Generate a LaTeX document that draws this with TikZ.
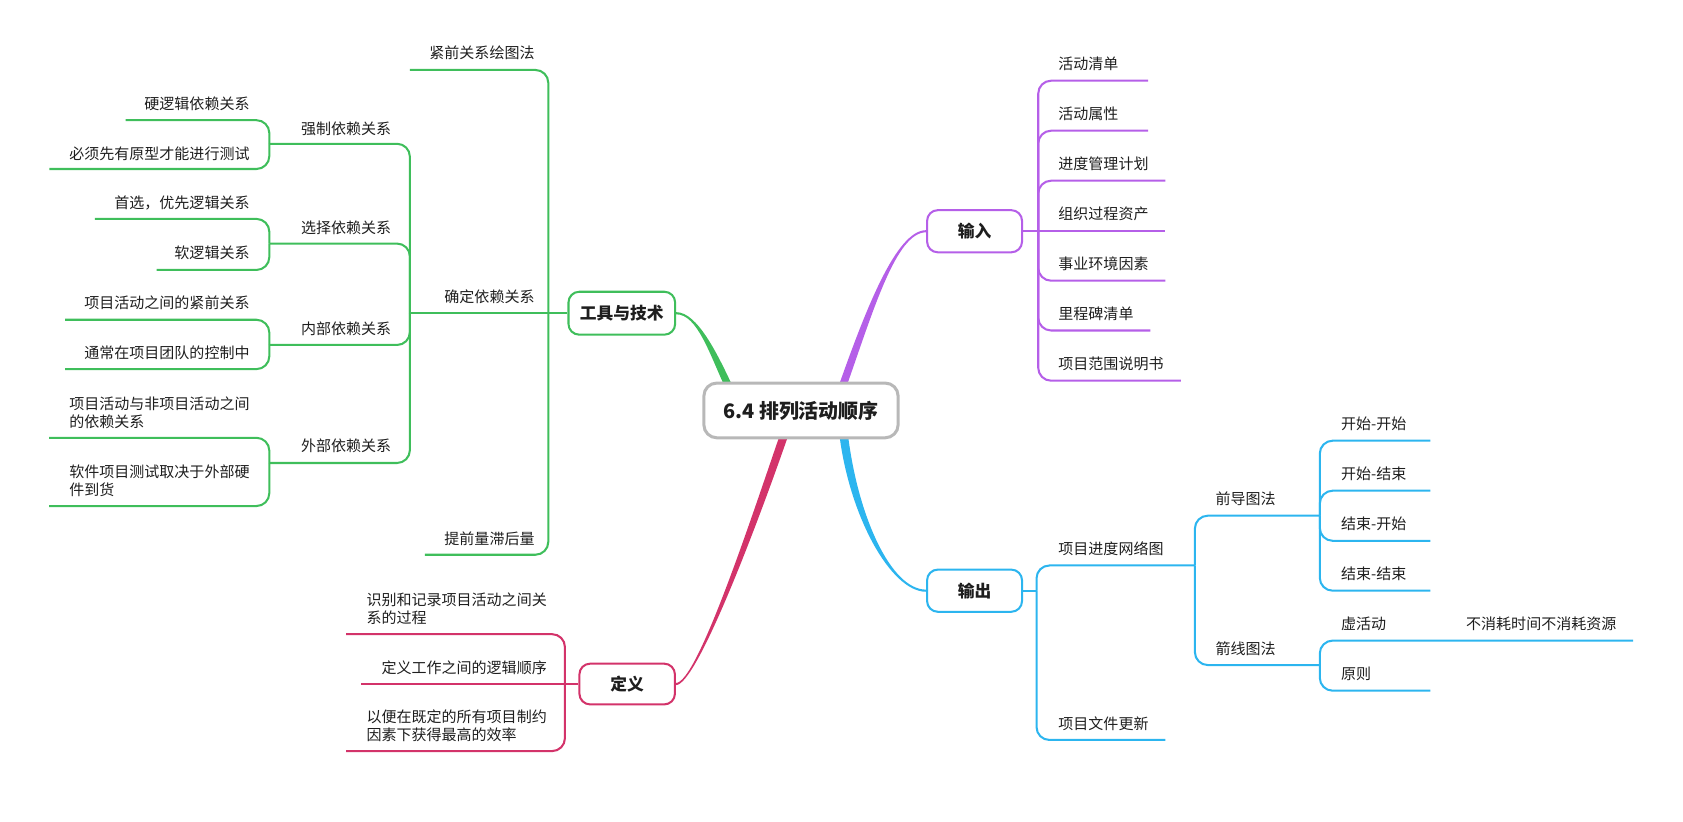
\documentclass[tikz,border=0pt]{standalone}
\usepackage{fontspec}
\setmainfont{Noto Sans CJK SC}
\usetikzlibrary{calc}
\definecolor{cg}{HTML}{3FBE5B}
\definecolor{cp}{HTML}{B55FE8}
\definecolor{cb}{HTML}{2CB5EF}
\definecolor{cr}{HTML}{D3336A}
\definecolor{cgray}{HTML}{B8B8B8}
\definecolor{ctext}{HTML}{1E1E1E}
\pgfdeclarelayer{bg}
\pgfsetlayers{bg,main}
\begin{document}
\begin{tikzpicture}[x=0.5pt,y=-0.5pt,
  lbl/.style={inner sep=0pt,text=ctext,font=\fontsize{7}{8.25}\selectfont},
  ltxt/.style={lbl,anchor=east},
  lmulti/.style={lbl,anchor=east,align=left},
  rtxt/.style={lbl,anchor=west},
  linkline/.style={line width=0.95pt,rounded corners=6pt},
  glink/.style={linkline,draw=cg},
  plink/.style={linkline,draw=cp},
  blink/.style={linkline,draw=cb},
  rlink/.style={linkline,draw=cr},
  branch/.style={draw,fill=white,rounded corners=5pt,line width=0.95pt,inner sep=0pt,text=ctext,font=\bfseries\fontsize{7.8}{9}\selectfont},
  rootbox/.style={draw=cgray,fill=white,rounded corners=6pt,line width=1.4pt,inner sep=0pt,minimum width=90.5pt,minimum height=25.5pt,text=ctext,font=\bfseries\fontsize{9.3}{11}\selectfont}
]
\useasboundingbox (0,0) rectangle (1568.5,766);

% ---------- main nodes ----------
\node[rootbox] (root) at (746.5,382.5) {6.4 排列活动顺序};
\node[branch,draw=cg,minimum width=49.7pt,minimum height=20pt] (tools) at (579.5,291.9) {工具与技术};
\node[branch,draw=cp,minimum width=44.25pt,minimum height=19.65pt] (in) at (908.25,215.5) {输入};
\node[branch,draw=cb,minimum width=44.25pt,minimum height=19.65pt] (out) at (908.25,550.5) {输出};
\node[branch,draw=cr,minimum width=44.5pt,minimum height=19pt] (def) at (584.5,637.5) {定义};

% ---------- tapered main branches ----------
\begin{pgfonlayer}{bg}
\fill[cg] (676.25,362) .. controls (661.25,330) and (650,292.9) .. ($(tools.east)+(0,1)$) -- ($(tools.east)+(0,-1)$) .. controls (650,290.9) and (668.75,330) .. (683.75,362) -- cycle;
\fill[cp] (780.75,362) .. controls (806.25,290) and (835,214.5) .. ($(in.west)+(0,-1)$) -- ($(in.west)+(0,1)$) .. controls (835,216.5) and (813.75,290) .. (788.25,362) -- cycle;
\fill[cb] (782,403) .. controls (791,480) and (830,551.5) .. ($(out.west)+(0,1)$) -- ($(out.west)+(0,-1)$) .. controls (830,549.5) and (799,480) .. (790,403) -- cycle;
\fill[cr] (727.6,403) .. controls (701,480) and (650,636.5) .. ($(def.east)+(0,-1)$) -- ($(def.east)+(0,1)$) .. controls (650,638.5) and (709,480) .. (735.6,403) -- cycle;
\end{pgfonlayer}

% ---------- 工具与技术 ----------
\coordinate (g1) at (511,291.9);
\coordinate (g2) at (382,291.9);
\draw[glink] (tools.west) -- (g2);
\draw[glink] (g1) |- (382,65.2);
\draw[glink] (g1) |- (396,517);
\node[ltxt] (jq) at (498.6,49.5) {紧前关系绘图法};
\node[ltxt] (qd) at (498.6,277) {确定依赖关系};
\node[ltxt] (tq) at (498.6,502) {提前量滞后量};

\coordinate (g3a) at (251,134);
\coordinate (g3b) at (251,227);
\coordinate (g3c) at (251,321.5);
\coordinate (g3d) at (251,431.5);
\draw[glink] (g2) |- (g3a);
\draw[glink] (g2) |- (g3b);
\draw[glink] (g2) |- (g3c);
\draw[glink] (g2) |- (g3d);
\node[ltxt] (qz) at (365,120) {强制依赖关系};
\node[ltxt] (xz) at (365,212.5) {选择依赖关系};
\node[ltxt] (nb) at (365,306.6) {内部依赖关系};
\node[ltxt] (wb) at (365,415.6) {外部依赖关系};

\draw[glink] (g3a) |- (117,112);
\draw[glink] (g3a) |- (46,157.5);
\node[ltxt] (a1) at (233,97) {硬逻辑依赖关系};
\node[ltxt] (a2) at (233,143) {必须先有原型才能进行测试};

\draw[glink] (g3b) |- (88.5,204);
\draw[glink] (g3b) |- (146,251.6);
\node[ltxt] (b1t) at (233,189) {首选，优先逻辑关系};
\node[ltxt] (b2t) at (233,236) {软逻辑关系};

\draw[glink] (g3c) |- (60.6,298);
\draw[glink] (g3c) |- (60.6,344);
\node[ltxt] (c1) at (233,282.5) {项目活动之间的紧前关系};
\node[ltxt] (c2) at (233,328.5) {通常在项目团队的控制中};

\draw[glink] (g3d) |- (45.7,408);
\draw[glink] (g3d) |- (45.7,471.6);
\node[lmulti] (d1) at (233,384.5) {项目活动与非项目活动之间\\的依赖关系};
\node[lmulti] (d2) at (233,448) {软件项目测试取决于外部硬\\件到货};

% ---------- 定义 ----------
\coordinate (r1) at (526.5,637.5);
\draw[rlink] (def.west) -- (336,637.5);
\draw[rlink] (r1) |- (322.5,591);
\draw[rlink] (r1) |- (322.5,700);
\node[lmulti] (e1) at (510,567.5) {识别和记录项目活动之间关\\系的过程};
\node[ltxt] (e2) at (510,622) {定义工作之间的逻辑顺序};
\node[lmulti] (e3) at (510,676.5) {以便在既定的所有项目制约\\因素下获得最高的效率};

% ---------- 输入 ----------
\coordinate (p1) at (967.6,215.5);
\draw[plink] (in.east) -- (1086,215.5);
\draw[plink] (p1) |- (1070,75.2);
\draw[plink] (p1) |- (1070,121.8);
\draw[plink] (p1) |- (1086,168.4);
\draw[plink] (p1) |- (1086,261.6);
\draw[plink] (p1) |- (1072,308);
\draw[plink] (p1) |- (1100.6,354.8);
\node[rtxt] (i1) at (986,59.7) {活动清单};
\node[rtxt] (i2) at (986,106.3) {活动属性};
\node[rtxt] (i3) at (986,152.9) {进度管理计划};
\node[rtxt] (i4) at (986,199.5) {组织过程资产};
\node[rtxt] (i5) at (986,246.1) {事业环境因素};
\node[rtxt] (i6) at (986,292.5) {里程碑清单};
\node[rtxt] (i7) at (986,339.3) {项目范围说明书};

% ---------- 输出 ----------
\coordinate (o1) at (966,550.5);
\coordinate (o2) at (1113.6,527);
\draw[blink] (out.east) -- (o1);
\draw[blink] (o1) |- (o2);
\draw[blink] (o1) |- (1086,689.6);
\node[rtxt] (n1) at (986,511.5) {项目进度网络图};
\node[rtxt] (n2) at (986,674.1) {项目文件更新};

\coordinate (o3) at (1230,480.6);
\coordinate (o4) at (1230,619.8);
\draw[blink] (o2) |- (o3);
\draw[blink] (o2) |- (o4);
\node[rtxt] (m1) at (1132.5,465.1) {前导图法};
\node[rtxt] (m2) at (1132.5,604.3) {箭线图法};

\draw[blink] (o3) |- (1333,410.7);
\draw[blink] (o3) |- (1333,457.3);
\draw[blink] (o3) |- (1333,504);
\draw[blink] (o3) |- (1333,550.5);
\node[rtxt] (k1) at (1249.5,395.2) {开始-开始};
\node[rtxt] (k2) at (1249.5,441.8) {开始-结束};
\node[rtxt] (k3) at (1249.5,488.5) {结束-开始};
\node[rtxt] (k4) at (1249.5,535) {结束-结束};

\draw[blink] (o4) |- (1522,597);
\draw[blink] (o4) |- (1333,643.7);
\node[rtxt] (h1) at (1249.5,581.5) {虚活动};
\node[rtxt] (h2) at (1249.5,628.2) {原则};
\node[rtxt] (h3) at (1366,581.5) {不消耗时间不消耗资源};
\end{tikzpicture}
\end{document}
